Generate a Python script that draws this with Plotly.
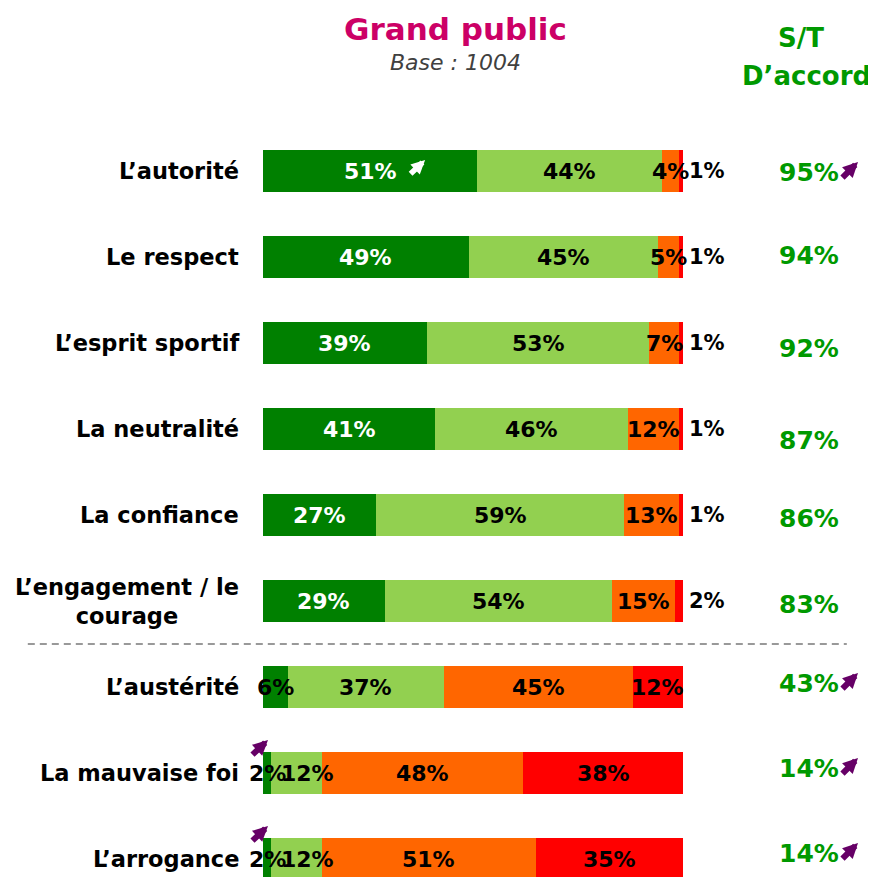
import plotly.graph_objects as go

categories = ["L’autorité", "Le respect", "L’esprit sportif", "La neutralité",
              "La confiance", "L’engagement / le<br>courage", "L’austérité",
              "La mauvaise foi", "L’arrogance"]
tout_a_fait = [51, 49, 39, 41, 27, 29, 6, 2, 2]
plutot = [44, 45, 53, 46, 59, 54, 37, 12, 12]
plutot_pas = [4, 5, 7, 12, 13, 15, 45, 48, 51]
pas_du_tout = [1, 1, 1, 1, 1, 2, 12, 38, 35]
st_accord = [95, 94, 92, 87, 86, 83, 43, 14, 14]
st_up = [True, False, False, False, False, False, True, True, True]
first_up = [True, False, False, False, False, False, False, True, True]

colors = ["#008000", "#92D050", "#FF6600", "#FF0000"]
series = [tout_a_fait, plutot, plutot_pas, pas_du_tout]
FONT = "DejaVu Sans"
ypos = list(range(len(categories)))
st_yshift = [-1, 2, -5, -11, -3, -3, 4, 5, 6]

fig = go.Figure()
for vals, col in zip(series, colors):
    fig.add_trace(go.Bar(x=vals, y=ypos, orientation="h", marker=dict(color=col, line=dict(width=0)),
                         width=0.49, hoverinfo="skip", showlegend=False))
fig.update_layout(barmode="stack")

ann = []
n_top = 6


def arrow(x, y, xref, yref, xs, ys, color, dx=17, dy=17, width=6, size=0.5):
    return dict(x=x, y=y, xref=xref, yref=yref, ax=-dx, ay=dy,
                xshift=xs, yshift=ys, showarrow=True, arrowhead=2, arrowsize=size,
                arrowwidth=width, arrowcolor=color, text="", standoff=0, startstandoff=0)


for i in ypos:
    cum = 0
    for s, vals in enumerate(series):
        v = vals[i]
        start = cum
        cum += v
        outside = (s == 3 and i < n_top)
        if outside:
            ann.append(dict(x=100, y=i, xref="x", yref="y", text=f"<b>{v}%</b>", showarrow=False,
                            xanchor="left", xshift=4, font=dict(family=FONT, size=21, color="black")))
            continue
        txtcol = "white" if (s == 0 and i < n_top) else "black"
        xs = 0
        if s == 1 and i >= 7:
            xs = 11
        ann.append(dict(x=start + v / 2, y=i, xref="x", yref="y", text=f"<b>{v}%</b>", showarrow=False,
                        xanchor="center", xshift=xs, font=dict(family=FONT, size=22, color=txtcol)))
    # category label
    ann.append(dict(x=0, y=i, xref="paper", yref="y", text=f"<b>{categories[i]}</b>", showarrow=False,
                    xanchor="right", align="center", xshift=-22, font=dict(family=FONT, size=22.5, color="black")))
    # S/T total
    ann.append(dict(x=1.3, y=i, xref="paper", yref="y", text=f"<b>{st_accord[i]}%</b>", showarrow=False,
                    xanchor="center", yshift=st_yshift[i], font=dict(family=FONT, size=25, color="#009900")))
    if st_up[i]:
        ann.append(arrow(1.3, i, "paper", "y", 49, st_yshift[i] + 10, "#660066"))
    if first_up[i]:
        if i < n_top:
            ann.append(arrow(tout_a_fait[i] / 2, i, "x", "y", 55, 11, "white", dx=16, dy=15, width=5.5))
        else:
            ann.append(arrow(0, i, "x", "y", 5, 33, "#660066", dx=17, dy=16))

ann.append(dict(x=0.5, y=1.0, xref="paper", yref="paper", text="<b>Grand public</b>", showarrow=False,
                xanchor="center", yanchor="bottom", xshift=-18, yshift=51,
                font=dict(family=FONT, size=31, color="#CC0066")))
ann.append(dict(x=0.5, y=1.0, xref="paper", yref="paper", text="<i>Base : 1004</i>", showarrow=False,
                xanchor="center", yanchor="bottom", xshift=-18, yshift=23,
                font=dict(family=FONT, size=22, color="#404040")))
ann.append(dict(x=1.3, y=1.0, xref="paper", yref="paper", text="<b>S/T</b>", showarrow=False,
                xanchor="center", yanchor="bottom", xshift=-8, yshift=45,
                font=dict(family=FONT, size=26, color="#009900")))
ann.append(dict(x=1.3, y=1.0, xref="paper", yref="paper", text="<b>D’accord</b>", showarrow=False,
                xanchor="center", yanchor="bottom", xshift=-3, yshift=7,
                font=dict(family=FONT, size=26, color="#009900")))

fig.update_layout(
    annotations=ann,
    width=868, height=869,
    margin=dict(l=255, r=193, t=92, b=0),
    plot_bgcolor="white", paper_bgcolor="white",
    xaxis=dict(range=[0, 100], visible=False, fixedrange=True),
    yaxis=dict(range=[8.209, -0.826], visible=False, fixedrange=True),
    shapes=[dict(type="line", xref="paper", yref="y", x0=-0.56, x1=1.39, y0=5.5, y1=5.5,
                 line=dict(color="#999999", width=2, dash="7px,5px"))],
)
fig.write_html("out.html", config={"displayModeBar": False})
